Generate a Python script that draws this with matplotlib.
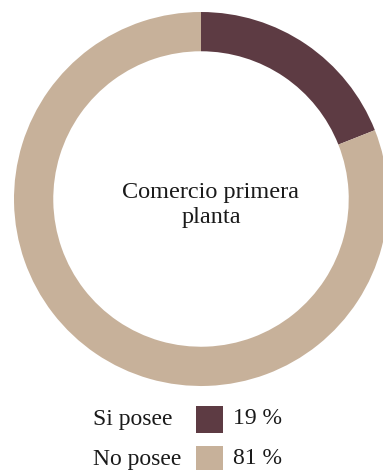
import matplotlib
matplotlib.use("Agg")
import matplotlib.pyplot as plt
from matplotlib.patches import Rectangle

title = "Comercio primera\nplanta"
labels = ["Si posee", "No posee"]
values = [19, 81]
colors = ["#5D3B43", "#C7B19A"]

W, H = 383, 470
fig = plt.figure(figsize=(W / 100, H / 100), dpi=100)
ax = fig.add_axes([0, 0, 1, 1])

cx, cy, r = 201, H - 199, 187
ax.pie(values, colors=colors, startangle=90, counterclock=False,
       center=(cx, cy), radius=r, frame=True,
       wedgeprops=dict(width=r * 0.21, linewidth=0))
ax.set_xlim(0, W)
ax.set_ylim(0, H)
ax.set_aspect("equal")
ax.axis("off")

serif = ["Liberation Serif", "DejaVu Serif"]
ax.text(211, H - 205, title, ha="center", va="center", fontsize=17.5,
        family=serif, color="#1a1a1a", linespacing=1.3)

# legend rows: label, colour swatch, percentage
rows_y = [H - 419, H - 459]
for lab, val, col, y in zip(labels, values, colors, rows_y):
    ax.text(93, y, lab, ha="left", va="center", fontsize=17,
            family=serif, color="#1a1a1a")
    ax.add_patch(Rectangle((196, y - 13.5), 27, 27, facecolor=col,
                           edgecolor="none"))
    ax.text(233, y, f"{val} %", ha="left", va="center", fontsize=17,
            family=serif, color="#1a1a1a")

fig.savefig("out.png", dpi=100)
